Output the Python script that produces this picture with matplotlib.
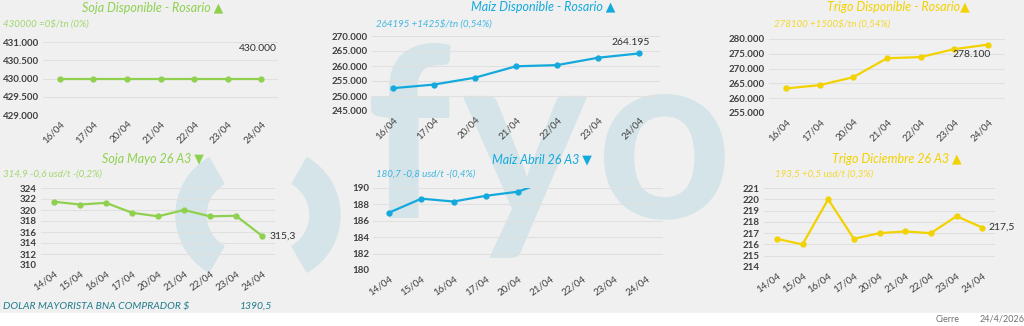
import matplotlib
matplotlib.use('Agg')
import matplotlib.pyplot as plt
from matplotlib.patches import Wedge, Rectangle, PathPatch
from matplotlib.transforms import IdentityTransform, Affine2D
from matplotlib.textpath import TextPath
from matplotlib.font_manager import FontProperties
from matplotlib.ticker import FuncFormatter, MultipleLocator
import numpy as np

plt.rcParams['font.family'] = ['Lato', 'DejaVu Sans']

# ---- data ----
disp_dates = ['16/04', '17/04', '20/04', '21/04', '22/04', '23/04', '24/04']
fut_dates = ['14/04', '15/04', '16/04', '17/04', '20/04', '21/04', '22/04', '23/04', '24/04']

soja_disp = [430000, 430000, 430000, 430000, 430000, 430000, 430000]
maiz_disp = [252600, 253800, 256100, 259900, 260300, 262770, 264195]
trigo_disp = [263300, 264400, 267100, 273500, 273900, 276600, 278100]

soja_mayo = [321.5, 321.0, 321.3, 319.5, 318.85, 320.0, 318.85, 318.95, 315.3]
maiz_abril = [187.0, 188.7, 188.35, 189.05, 189.55, 191.0, np.nan, np.nan, np.nan]
trigo_dic = [216.5, 216.0, 220.0, 216.5, 217.0, 217.15, 217.0, 218.5, 217.5]

GREEN = '#8fd14f'
CYAN = '#14a9dc'
YELLOW = '#f2d200'
WM = '#d5e4e8'
TEAL = '#1f7c8c'

W, H = 1024, 326
fig = plt.figure(figsize=(W / 100, H / 100), dpi=100, facecolor='#f0f0f0')


def fx(x):
    return x / W


def fy(y):
    return 1 - y / H


def px_axes(left, top, right, bottom):
    return fig.add_axes([left / W, 1 - bottom / H, (right - left) / W, (bottom - top) / H])


def thousands(v, pos):
    return f"{v:,.0f}".replace(',', '.')


def plain(v, pos):
    return f"{v:.0f}"


def draw_panel(ax, dates, values, color, ylo, yhi, step, fmt, rot,
               label=None, off=(0, 0), ha='center'):
    ax.set_facecolor('none')
    x = np.arange(len(dates))
    ax.plot(x, values, color=color, lw=1.6, marker='o', ms=3.5, zorder=3)
    ax.set_xlim(-0.5, len(dates) - 0.5)
    ax.set_ylim(ylo, yhi)
    ax.yaxis.set_major_locator(MultipleLocator(step))
    ax.yaxis.set_major_formatter(FuncFormatter(fmt))
    ax.set_xticks(x)
    ax.set_xticklabels(dates, rotation=rot, ha='right', rotation_mode='anchor')
    ax.grid(axis='y', color='#e0e0e0', lw=0.8)
    ax.set_axisbelow(True)
    for s in ax.spines.values():
        s.set_visible(False)
    ax.tick_params(length=0, labelsize=7, labelcolor='#404040', pad=3)
    for t in ax.get_yticklabels():
        t.set_fontweight('bold')
    if label:
        ax.annotate(label, (x[-1], values[-1]), xytext=off, textcoords='offset pixels',
                    ha=ha, va='center', fontsize=7.5, color='#303030')


# watermark "( ) fyo", drawn as shapes in pixel units
fig.add_artist(Wedge((242, H - 215), 66, 120, 240, width=30, color=WM,
                     transform=IdentityTransform(), zorder=-5))
fig.add_artist(Wedge((274, H - 215), 66, -60, 60, width=30, color=WM,
                     transform=IdentityTransform(), zorder=-5))
wm_font = FontProperties(family='Lato', weight='bold')
for ch, xl in [('f', 366), ('y', 462), ('o', 596)]:
    path = TextPath((0, 0), ch, size=238, prop=wm_font)
    fig.add_artist(PathPatch(path, color=WM, lw=0, zorder=-5,
                             transform=Affine2D().translate(xl, H - 218)))

# white band at the bottom
fig.add_artist(Rectangle((0, 0), 1, 13 / H, transform=fig.transFigure,
                         color='white', zorder=-10))

# ---- panels ----
ax1 = px_axes(43, 42, 278, 115)
draw_panel(ax1, disp_dates, soja_disp, GREEN, 429000, 431000, 500, thousands, 45,
           '430.000', (-3, 30))
ax2 = px_axes(372, 36, 660, 111)
draw_panel(ax2, disp_dates, maiz_disp, CYAN, 245000, 270000, 5000, thousands, 45,
           '264.195', (-9, 11))
ax3 = px_axes(769, 39, 1005, 113)
draw_panel(ax3, disp_dates, trigo_disp, YELLOW, 255000, 280000, 5000, thousands, 45,
           '278.100', (-17, -10))
ax4 = px_axes(41, 188, 275, 265)
draw_panel(ax4, fut_dates, soja_mayo, GREEN, 310, 324, 2, plain, 35,
           '315,3', (8, 0), 'left')
ax5 = px_axes(373, 188, 663, 270)
draw_panel(ax5, fut_dates, maiz_abril, CYAN, 180, 190, 2, plain, 35)
ax6 = px_axes(764, 188, 995, 267)
draw_panel(ax6, fut_dates, trigo_dic, YELLOW, 214, 221, 1, plain, 35,
           '217,5', (6, 0), 'left')

# ---- titles ----
titles = [
    (153, 8, 'Soja Disponible - Rosario ▲', GREEN, 3, 24, '430000 =0$/tn (0%)'),
    (543, 7, 'Maíz Disponible - Rosario ▲', CYAN, 376, 24, '264195 +1425$/tn (0,54%)'),
    (898, 7, 'Trigo Disponible - Rosario▲', YELLOW, 774, 24, '278100 +1500$/tn (0,54%)'),
    (153, 159, 'Soja Mayo 26 A3 ▼', GREEN, 3, 174, '314,9 -0,6 usd/t -(0,2%)'),
    (542, 159, 'Maíz Abril 26 A3 ▼', CYAN, 376, 174, '180,7 -0,8 usd/t -(0,4%)'),
    (897, 159, 'Trigo Diciembre 26 A3 ▲', YELLOW, 775, 174, '193,5 +0,5 usd/t (0,3%)'),
]
for tx, ty, title, col, sx, sy, sub in titles:
    fig.text(fx(tx), fy(ty), title, color=col, fontsize=9, fontstyle='italic',
             ha='center', va='center')
    fig.text(fx(sx), fy(sy), sub, color=col, alpha=0.8, fontsize=7, fontstyle='italic',
             ha='left', va='center')

# ---- footer ----
fig.text(fx(3), fy(306), 'DOLAR MAYORISTA BNA COMPRADOR $', color=TEAL, fontsize=7.5,
         fontstyle='italic', ha='left', va='center')
fig.text(fx(240), fy(306), '1390,5', color=TEAL, fontsize=7.5, fontstyle='italic',
         ha='left', va='center')
fig.text(fx(936), fy(319), 'Cierre', color='#707070', fontsize=6.5, ha='left', va='center')
fig.text(fx(980), fy(319), '24/4/2026', color='#707070', fontsize=6.5, ha='left', va='center')

fig.savefig('out.png', dpi=100, facecolor=fig.get_facecolor())
